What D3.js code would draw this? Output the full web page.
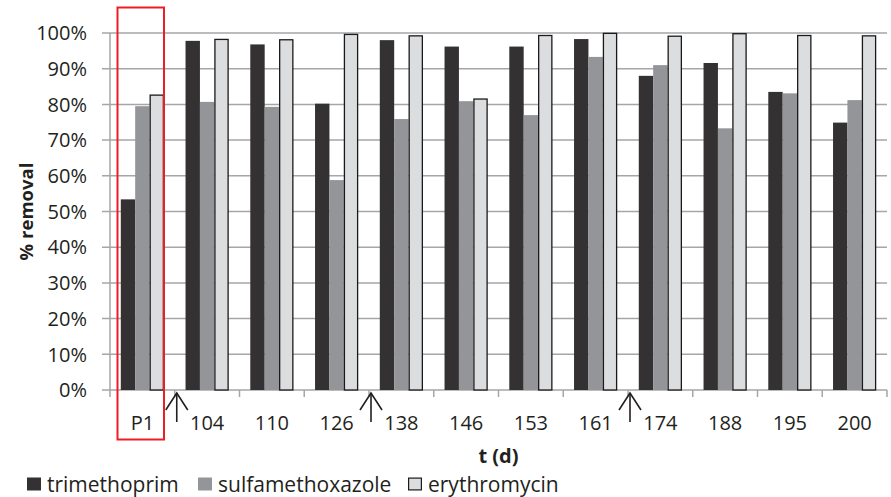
<!DOCTYPE html>
<html><head><meta charset="utf-8">
<script src="https://cdn.jsdelivr.net/npm/d3@7"></script>
<style>
html,body{margin:0;padding:0;background:#fff;}
svg{display:block;font-family:"Open Sans", Lato, sans-serif;}
</style></head>
<body><svg id="chart" width="891" height="497"></svg>
<script>
const categories = ["P1","104","110","126","138","146","153","161","174","188","195","200"];
const seriesNames = ["trimethoprim","sulfamethoxazole","erythromycin"];
const trimethoprim = [53.4,97.8,96.8,80.2,98.0,96.2,96.2,98.3,88.0,91.6,83.5,74.9];
const sulfamethoxazole = [79.5,80.7,79.3,58.8,75.9,80.9,77.0,93.3,91.0,73.3,83.1,81.2];
const erythromycin = [82.6,98.2,98.1,99.6,99.2,81.5,99.3,99.9,99.1,99.8,99.3,99.2];
const yTicks = [0,10,20,30,40,50,60,70,80,90,100];
const arrowAfter = ["P1","126","161"]; // arrows between these and next category
const colors = ["#333132","#939598","#dcdddf"];

const values = [trimethoprim, sulfamethoxazole, erythromycin];
const svg = d3.select("#chart");
const m = {left:110, right:4, top:33, bottom:107};
const W = 891, H = 497;
const x = d3.scaleBand().domain(categories).range([m.left, W - m.right]).paddingInner(0).paddingOuter(0);
const xs = d3.scaleBand().domain(seriesNames).range([0, x.bandwidth()]).paddingInner(0).paddingOuter(0.75);
const y = d3.scaleLinear().domain([0,100]).range([H - m.bottom, m.top]);

const gridC = "#a6a6a8";
// gridlines
svg.append("g").selectAll("line").data(yTicks).join("line")
  .attr("x1", m.left - 8).attr("x2", W - m.right)
  .attr("y1", d => y(d)).attr("y2", d => y(d))
  .attr("stroke", gridC).attr("stroke-width", 1.5);
// y axis line
svg.append("line").attr("x1", m.left).attr("x2", m.left)
  .attr("y1", y(0)).attr("y2", y(100)).attr("stroke", gridC).attr("stroke-width", 1.5);
// x ticks
const bounds = categories.map(c => x(c)).concat([x(categories[categories.length-1]) + x.bandwidth()]);
svg.append("g").selectAll("line").data(bounds).join("line")
  .attr("x1", d => d).attr("x2", d => d)
  .attr("y1", y(0)).attr("y2", y(0) + 7)
  .attr("stroke", gridC).attr("stroke-width", 1.5);

// y tick labels
svg.append("g").selectAll("text").data(yTicks).join("text")
  .attr("x", m.left - 23).attr("y", d => y(d)).attr("dy", "0.36em")
  .attr("text-anchor", "end").attr("font-size", 20).attr("fill", "#231f20")
  .text(d => d + "%");

// bars
const groups = svg.append("g").selectAll("g").data(categories).join("g")
  .attr("transform", c => `translate(${x(c)},0)`);
seriesNames.forEach((s, si) => {
  groups.append("rect")
    .attr("x", (c) => xs(s) + (si === 2 ? 0.6 : 0))
    .attr("width", xs.bandwidth() - (si === 2 ? 1.2 : 0))
    .attr("y", (c, i) => y(values[si][i]))
    .attr("height", (c, i) => y(0) - y(values[si][i]))
    .attr("fill", colors[si])
    .attr("stroke", si === 2 ? "#1a1a1a" : "none")
    .attr("stroke-width", si === 2 ? 1.3 : 0);
});

// x tick labels
svg.append("g").selectAll("text").data(categories).join("text")
  .attr("x", c => x(c) + x.bandwidth()/2).attr("y", y(0) + 33)
  .attr("dy", "0.36em").attr("text-anchor", "middle")
  .attr("font-size", 20).attr("fill", "#231f20").text(c => c);

// arrows
arrowAfter.forEach(c => {
  const ax = x(c) + x.bandwidth() + 2;
  const top = y(0) + 3, bot = y(0) + 32;
  const g = svg.append("g").attr("stroke", "#231f20").attr("stroke-width", 1.6).attr("fill", "none");
  g.append("line").attr("x1", ax).attr("x2", ax).attr("y1", top).attr("y2", bot);
  g.append("path").attr("d", `M${ax-11},${top+17}L${ax},${top}L${ax+11},${top+17}`);
});

// red box
svg.append("rect").attr("x", 117.5).attr("y", 7.5).attr("width", 46.5).attr("height", 432)
  .attr("fill", "none").attr("stroke", "#ee1c24").attr("stroke-width", 2);

// axis titles
svg.append("text").attr("transform", `translate(33,${(y(0)+y(100))/2}) rotate(-90)`)
  .attr("text-anchor", "middle").attr("font-size", 18.5).attr("font-weight", "bold")
  .attr("fill", "#231f20").text("% removal");
svg.append("text").attr("x", (m.left + W - m.right)/2).attr("y", 463)
  .attr("text-anchor", "middle").attr("font-size", 20).attr("font-weight", "bold")
  .attr("fill", "#231f20").text("t (d)");

// legend
const legX = [27, 198, 408];
const leg = svg.append("g");
seriesNames.forEach((s, i) => {
  leg.append("rect").attr("x", legX[i] + (i===2?0.6:0)).attr("y", 477.5 + (i===2?0.6:0))
    .attr("width", 14 - (i===2?1.2:0)).attr("height", 13 - (i===2?1.2:0))
    .attr("fill", colors[i]).attr("stroke", i === 2 ? "#1a1a1a" : "none").attr("stroke-width", 1.2);
  leg.append("text").attr("x", legX[i] + 20).attr("y", 492)
    .attr("font-size", 21).attr("fill", "#231f20").text(s);
});
</script></body></html>
